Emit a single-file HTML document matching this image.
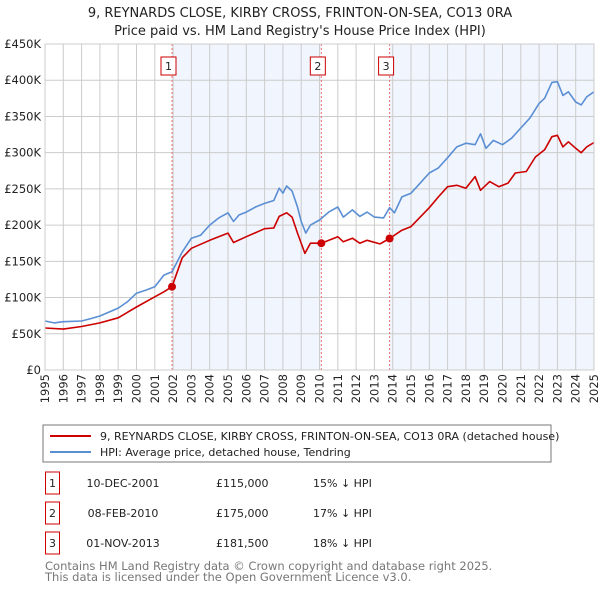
<!DOCTYPE html>
<html><head><meta charset="utf-8"><style>
body{margin:0;background:#fff;font-family:"DejaVu Sans","Liberation Sans",sans-serif;}
svg text{font-family:"DejaVu Sans","Liberation Sans",sans-serif;}
</style></head><body>
<svg id="c" width="600" height="590" viewBox="0 0 600 590" xmlns="http://www.w3.org/2000/svg">
<text x="300" y="17" text-anchor="middle" font-size="13" fill="#222">9, REYNARDS CLOSE, KIRBY CROSS, FRINTON-ON-SEA, CO13 0RA</text>
<text x="300" y="35" text-anchor="middle" font-size="13" fill="#222">Price paid vs. HM Land Registry's House Price Index (HPI)</text>
<g id="plot"></g>
<rect x="43" y="425" width="508" height="37" fill="#fff" stroke="#777"/>
<line x1="50" y1="436" x2="91" y2="436" stroke="#cc0000" stroke-width="2"/>
<text x="100" y="440" font-size="11" fill="#222">9, REYNARDS CLOSE, KIRBY CROSS, FRINTON-ON-SEA, CO13 0RA (detached house)</text>
<line x1="50" y1="452" x2="91" y2="452" stroke="#5b8fd4" stroke-width="2"/>
<text x="100" y="456" font-size="11" fill="#222">HPI: Average price, detached house, Tendring</text>
<g id="tbl"></g>
<text x="45" y="570" font-size="11.5" fill="#777">Contains HM Land Registry data © Crown copyright and database right 2025.</text>
<text x="45" y="581" font-size="11.5" fill="#777">This data is licensed under the Open Government Licence v3.0.</text>
</svg>
<script>
const hpiYears=[1995,1995.5,1996,1997,1997.5,1998,1999,1999.5,2000,2000.5,2001,2001.5,2001.94,2002.5,2003,2003.5,2004,2004.5,2005,2005.3,2005.6,2006,2006.5,2007,2007.5,2007.8,2008,2008.2,2008.5,2008.8,2009,2009.25,2009.5,2010,2010.5,2011,2011.3,2011.8,2012.2,2012.6,2013,2013.5,2013.83,2014.1,2014.5,2015,2015.5,2016,2016.5,2017,2017.5,2018,2018.5,2018.8,2019.1,2019.5,2020,2020.5,2021,2021.5,2022,2022.3,2022.7,2023,2023.3,2023.6,2024,2024.3,2024.6,2025];
const hpiValues=[67.6,65,66.7,67.6,71,74.5,85.5,94,106,110,115,131,135.6,163,182,186,200,210,217,205,214,218,225,230,234,251,244,254,247,225,205,189,200,207,218,225,211,221,212,218,211,210,224,217,239,244,258,272,279,293,308,313,311,326,306,317,311,320,334,348,368,375,397,398,379,384,370,366,377,384];
const priceYears=[1995,1996,1997,1998,1999,2000,2001,2001.5,2001.94,2002.5,2003,2004,2005,2005.3,2006,2007,2007.5,2007.8,2008.2,2008.5,2008.8,2009.2,2009.5,2010.1,2011,2011.3,2011.8,2012.2,2012.6,2013.3,2013.83,2014.5,2015,2015.5,2016,2016.5,2017,2017.5,2018,2018.5,2018.8,2019.3,2019.8,2020.3,2020.7,2021.3,2021.8,2022.3,2022.7,2023,2023.3,2023.6,2024,2024.3,2024.6,2025];
const priceValues=[58,56.5,60,65,72,87,101,108,115,155,168,179,189,176,184,195,196,212,217,211,189,161,175,175,184,177,182,175,179,174,181.5,193,198,211,224,239,253,255,251,267,248,260,253,258,272,274,294,304,322,324,308,315,306,300,308,314];
const saleYears=[2001.94,2010.1,2013.83];
const saleValues=[115,175,181.5];
const saleLabels=["1","2","3"];
const saleDates=["10-DEC-2001","08-FEB-2010","01-NOV-2013"];
const salePrices=["£115,000","£175,000","£181,500"];
const saleDiffs=["15% ↓ HPI","17% ↓ HPI","18% ↓ HPI"];
const yTicks=[0,50,100,150,200,250,300,350,400,450];
const yTickLabels=["£0","£50K","£100K","£150K","£200K","£250K","£300K","£350K","£400K","£450K"];
const xTicks=[];for(let y=1995;y<=2025;y++)xTicks.push(y);

const NS="http://www.w3.org/2000/svg";
const L=45,R=594,T=44,B=370;
const xs=v=>L+(v-1995)/30*(R-L);
const ys=v=>B-v/450*(B-T);
const g=document.getElementById('plot');
function mk(tag,at,parent){const e=document.createElementNS(NS,tag);for(const k in at)e.setAttribute(k,at[k]);(parent||g).appendChild(e);return e;}
let s1=mk('rect',{x:xs(saleYears[0]),y:T,width:xs(saleYears[1])-xs(saleYears[0]),height:B-T,fill:'#eef3fc',opacity:0.8});


let s2=mk('rect',{x:xs(saleYears[2]),y:T,width:R-xs(saleYears[2]),height:B-T,fill:'#eef3fc',opacity:0.8});


xTicks.forEach(t=>{
 let l=mk('line',{x1:xs(t),x2:xs(t),y1:T,y2:B,stroke:'#ccc','stroke-width':1});
 
 
 const px=xs(t)+4,py=B+4;
 let tx=mk('text',{x:px,y:py,'text-anchor':'end','font-size':11.5,fill:'#222',transform:'rotate(-90 '+px+' '+py+')'});
 tx.textContent=t;
 
 
});
yTicks.forEach((t,i)=>{
 let l=mk('line',{x1:L,x2:R,y1:ys(t),y2:ys(t),stroke:'#ccc','stroke-width':1});
 
 
 let tx=mk('text',{x:L-4,y:ys(t)+4,'text-anchor':'end','font-size':11.5,fill:'#222'});
 tx.textContent=yTickLabels[i];
 
 
});
saleYears.forEach((sy,i)=>{
 let l=mk('line',{x1:xs(sy),x2:xs(sy),y1:T,y2:B,stroke:'#f07070','stroke-width':1,'stroke-dasharray':'2,2'});
 
 
 let b=mk('rect',{x:xs(sy)-11,y:57,width:15,height:18,fill:'#fff',stroke:'#cc0000'});
 
 
 let t=mk('text',{x:xs(sy)-3.5,y:70,'text-anchor':'middle','font-size':11,fill:'#222'});
 t.textContent=saleLabels[i];
 
 
});
function line(xa,va,col,name){
 const d=xa.map((x,i)=>(i?'L':'M')+xs(x).toFixed(1)+','+ys(va[i]).toFixed(1)).join('');
 const p=mk('path',{d:d,fill:'none',stroke:col,'stroke-width':1.6,'stroke-linejoin':'round'});
 
 
}
line(hpiYears,hpiValues,'#5b8fd4','hpi-line');
line(priceYears,priceValues,'#cc0000','price-line');
saleYears.forEach((sy,i)=>{
 const c=mk('circle',{cx:xs(sy),cy:ys(saleValues[i]),r:4,fill:'#cc0000'});
 
 
});
mk('rect',{x:L,y:T,width:R-L,height:B-T,fill:'none',stroke:'#ccc'});
const tb=document.getElementById('tbl');
saleLabels.forEach((lab,i)=>{
 const cy=483+i*30;
 let b=mk('rect',{x:45.5,y:cy-11,width:14,height:22,fill:'#fff',stroke:'#cc0000'},tb);
 
 
 let t=mk('text',{x:52.5,y:cy+4,'text-anchor':'middle','font-size':11,fill:'#222'},tb);
 t.textContent=lab;
 
 
 let d=mk('text',{x:123,y:cy+4,'text-anchor':'middle','font-size':11,fill:'#222'},tb);
 d.textContent=saleDates[i];
 
 
 let p=mk('text',{x:216,y:cy+4,'font-size':11,fill:'#222'},tb);
 p.textContent=salePrices[i];
 
 
 let h=mk('text',{x:313,y:cy+4,'font-size':11,fill:'#222'},tb);
 h.textContent=saleDiffs[i];
 
 
});
</script>
</body></html>
